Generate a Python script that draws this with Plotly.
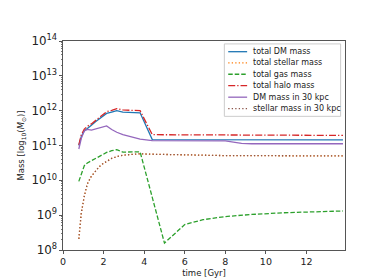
import plotly.graph_objects as go

# time in Gyr
time_gyr = [0.78, 0.9, 1.05, 1.2, 1.4, 1.6, 1.8, 2.0, 2.15, 2.4, 2.65, 2.95, 3.3, 3.8,
            4.4, 5.0, 6.0, 6.9, 8.0, 8.8, 9.3, 10.9, 12.4, 13.8]

# log10 of mass [M_sun]
log_dm_total = [11.0, 11.25, 11.42, 11.5, 11.58, 11.68, 11.77, 11.86, 11.92, 11.96, 12.0, 11.96, 11.95, 11.94,
                11.17, 11.17, 11.17, 11.17, 11.17, 11.16, 11.16, 11.16, 11.16, 11.16]
log_stellar_total = [8.32, 9.05, 9.55, 9.9, 10.12, 10.27, 10.4, 10.49, 10.55, 10.63, 10.68, 10.72, 10.74, 10.76,
                     10.75, 10.74, 10.73, 10.72, 10.71, 10.71, 10.71, 10.70, 10.70, 10.70]
log_gas_total = [9.97, 10.2, 10.42, 10.5, 10.56, 10.62, 10.68, 10.74, 10.8, 10.85, 10.88, 10.81, 10.81, 10.82,
                 9.51, 8.2, 8.73, 8.87, 8.96, 9.0, 9.02, 9.07, 9.10, 9.12]
log_halo_total = [11.02, 11.3, 11.47, 11.55, 11.62, 11.72, 11.82, 11.92, 11.97, 12.01, 12.06, 12.02, 12.01, 12.0,
                  11.31, 11.31, 11.31, 11.30, 11.30, 11.30, 11.29, 11.29, 11.29, 11.29]
log_dm_30kpc = [10.9, 11.2, 11.42, 11.46, 11.44, 11.47, 11.51, 11.54, 11.56, 11.46, 11.38, 11.31, 11.25, 11.18,
                11.14, 11.14, 11.14, 11.14, 11.13, 11.06, 11.05, 11.05, 11.05, 11.05]
log_stellar_30kpc = log_stellar_total

series_names = ["total DM mass", "total stellar mass", "total gas mass",
                "total halo mass", "DM mass in 30 kpc", "stellar mass in 30 kpc"]
series_values = [log_dm_total, log_stellar_total, log_gas_total,
                 log_halo_total, log_dm_30kpc, log_stellar_30kpc]
series_colors = ["#1f77b4", "#ff7f0e", "#2ca02c", "#d62728", "#9467bd", "#8c564b"]
series_dashes = ["solid", "1.3px,2.2px", "4.5px,2px", "7px,2px,1.3px,2px", "solid", "1.3px,2.2px"]

fig = go.Figure()
for name, logs, color, dash in zip(series_names, series_values, series_colors, series_dashes):
    fig.add_trace(go.Scatter(
        x=time_gyr, y=[10 ** v for v in logs], mode="lines", name=name,
        line=dict(color=color, width=1.3, dash=dash), showlegend=False,
    ))

# hand-drawn compact legend (matplotlib style), in plot-area (paper) coordinates
L, R, T, B = 46, 337, 33, 248  # plot area pixel box
def px(xp):
    return (xp - L) / (R - L)
def py(yp):
    return 1 - (yp - T) / (B - T)

shapes = [dict(type="rect", xref="paper", yref="paper",
               x0=px(212.5), x1=px(332.5), y0=py(110.5), y1=py(36),
               line=dict(color="#cccccc", width=1), fillcolor="rgba(255,255,255,0.85)", layer="above")]
annotations = []
entry_y = [44, 55.5, 67.2, 79, 90.8, 102.6]
for name, color, dash, yp in zip(series_names, series_colors, series_dashes, entry_y):
    shapes.append(dict(type="line", xref="paper", yref="paper",
                       x0=px(216.5), x1=px(236), y0=py(yp), y1=py(yp),
                       line=dict(color=color, width=1.3, dash=dash), layer="above"))
    annotations.append(dict(xref="paper", yref="paper", x=px(240.5), y=py(yp),
                            xanchor="left", yanchor="middle", text=name, showarrow=False,
                            font=dict(size=8, family="DejaVu Sans", color="#222")))

fig.update_layout(
    width=374, height=280,
    margin=dict(l=L, r=374 - R, t=T, b=280 - B),
    paper_bgcolor="white", plot_bgcolor="white",
    font=dict(family="DejaVu Sans", color="#222"),
    showlegend=False,
    shapes=shapes, annotations=annotations,
)
fig.update_xaxes(
    range=[0, 13.9], tickvals=[0, 2, 4, 6, 8, 10, 12],
    showgrid=False, zeroline=False,
    showline=True, mirror=True, linecolor="#555", linewidth=1,
    ticks="outside", ticklen=3, tickcolor="#555",
    tickfont=dict(size=9.5, family="DejaVu Sans", color="#222"),
    title=dict(text="time [Gyr]", font=dict(size=8.5, family="DejaVu Sans"), standoff=3),
)
fig.update_yaxes(
    type="log", range=[8, 14], dtick=1, exponentformat="power",
    showgrid=False, zeroline=False,
    showline=True, mirror=True, linecolor="#555", linewidth=1,
    ticks="outside", ticklen=3, tickcolor="#555",
    minor=dict(ticks="outside", ticklen=1.5, tickcolor="#777", dtick="D1", showgrid=False),
    tickfont=dict(size=9.5, family="DejaVu Sans", color="#222"),
    title=dict(text="Mass [log<sub>10</sub>(<i>M</i><sub>⊙</sub>)]",
               font=dict(size=8.5, family="DejaVu Sans"), standoff=5),
)

fig.write_html("out.html")
